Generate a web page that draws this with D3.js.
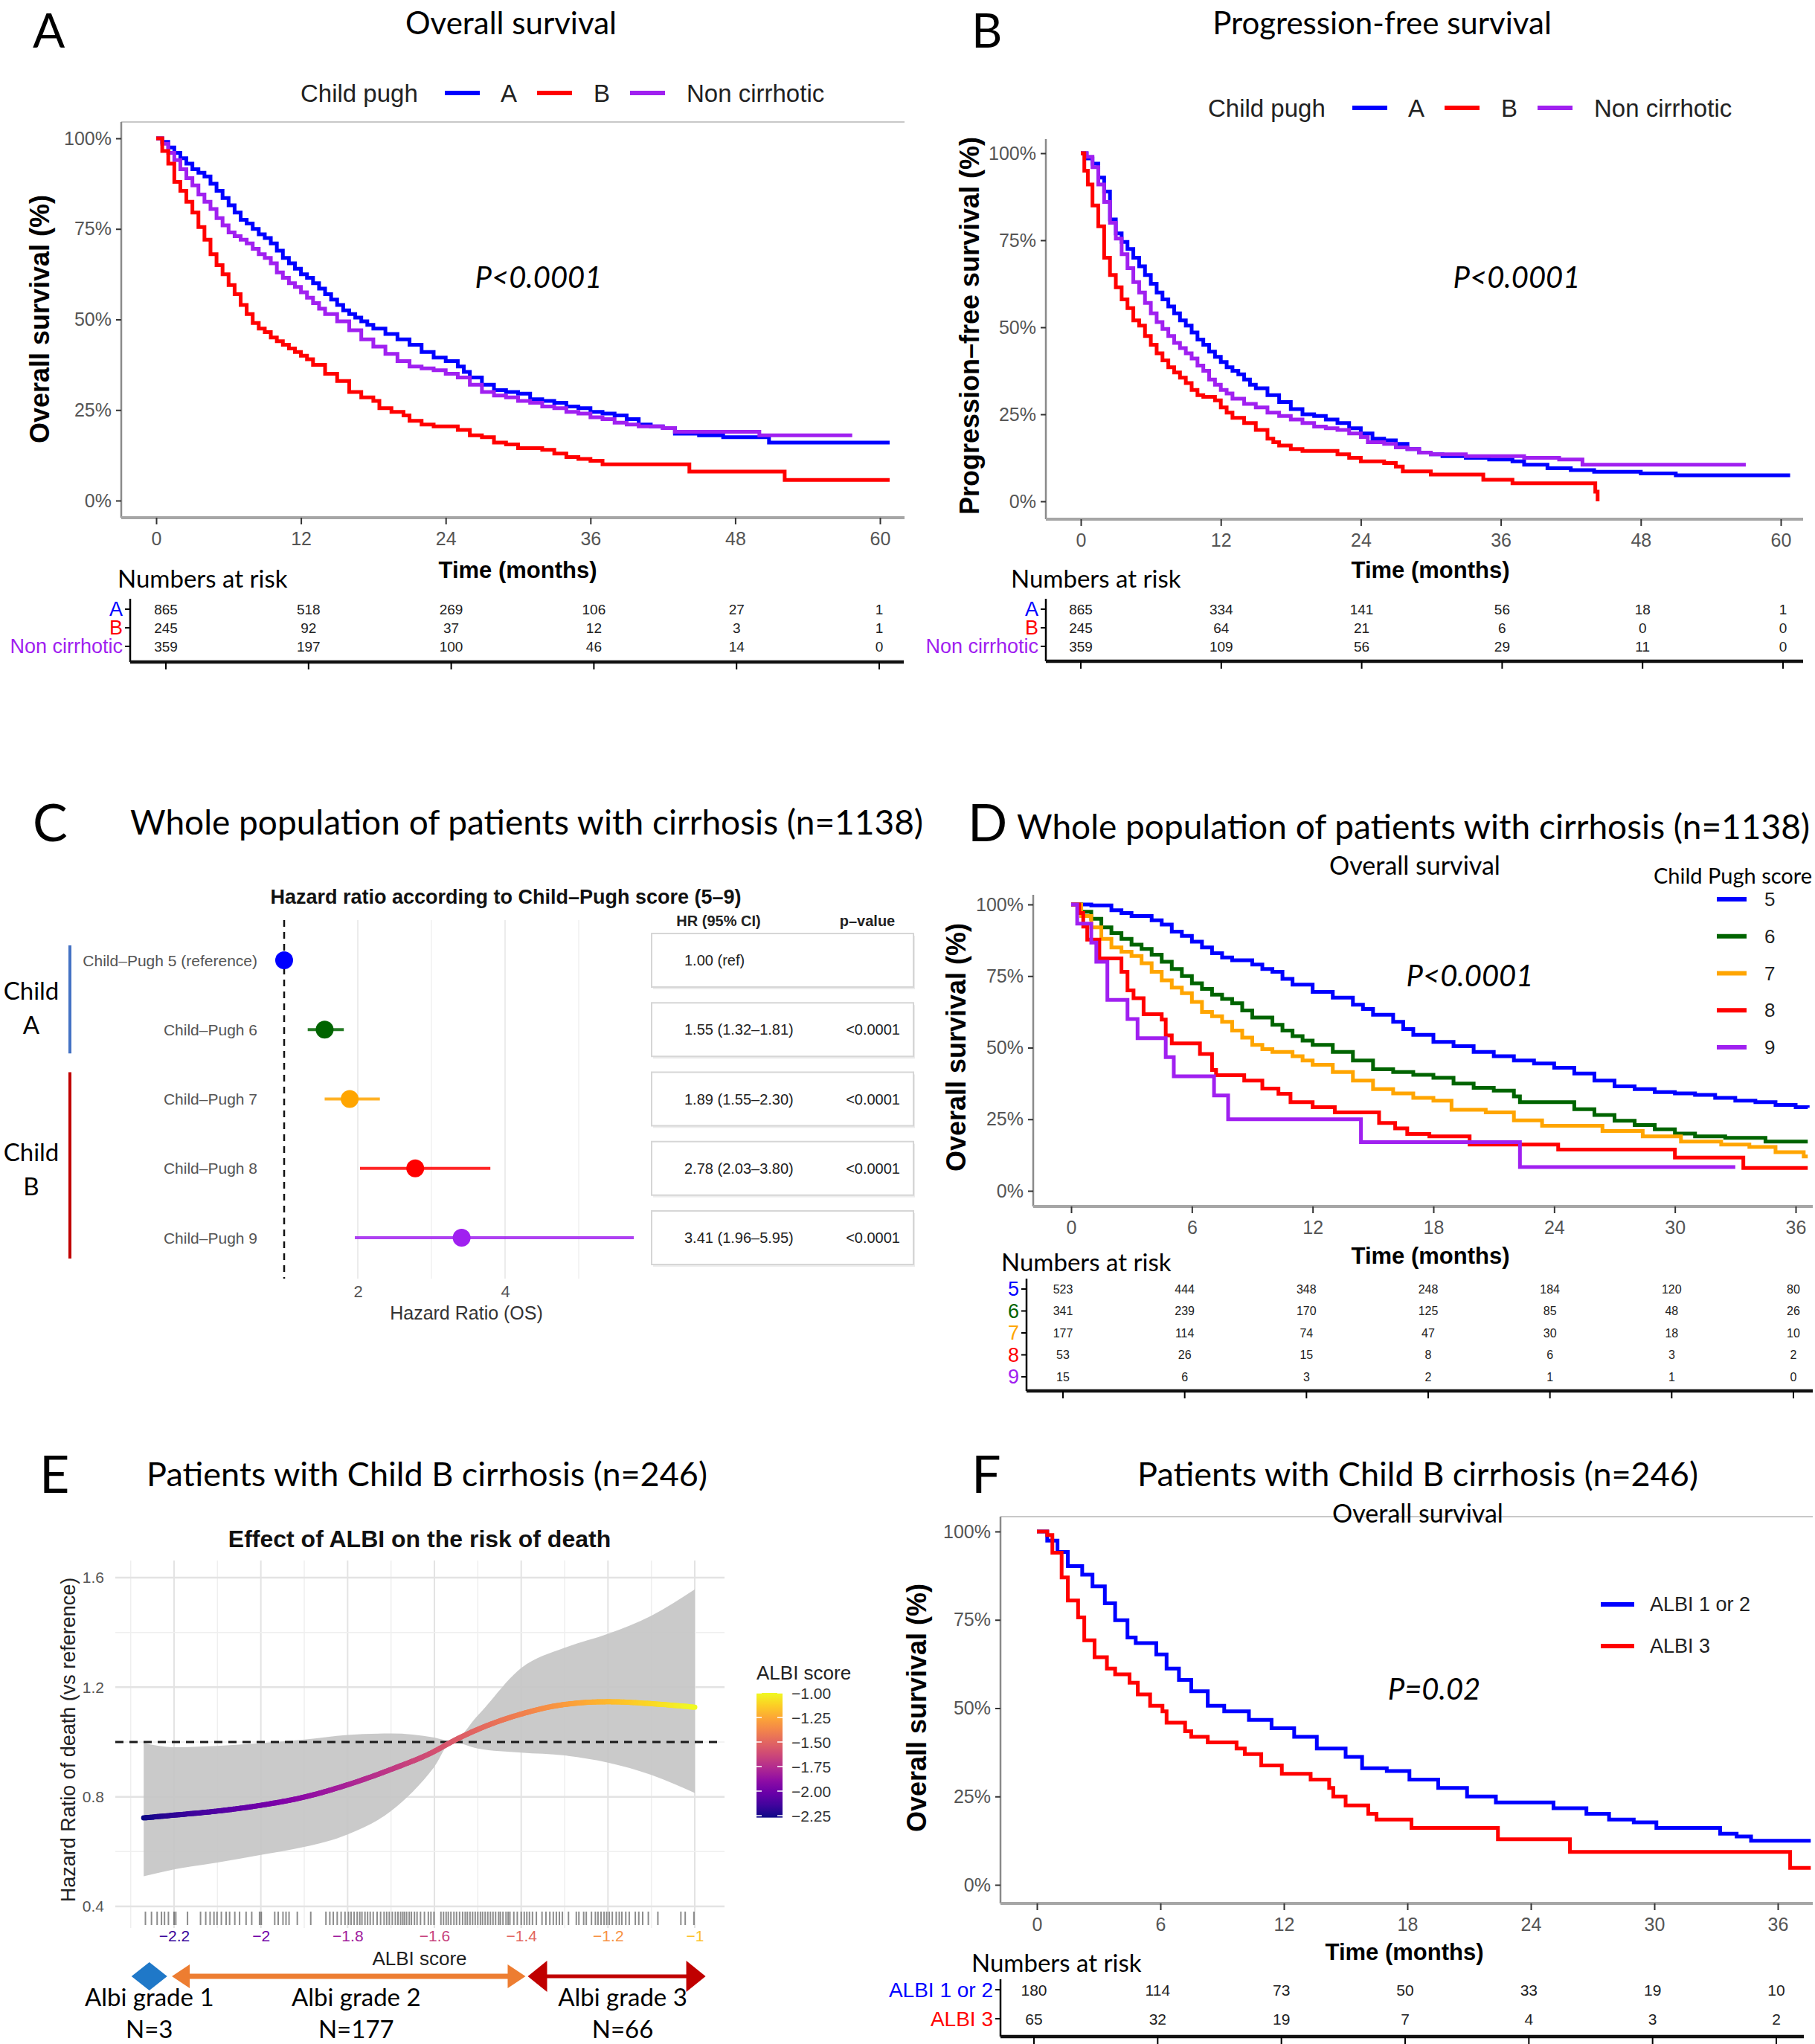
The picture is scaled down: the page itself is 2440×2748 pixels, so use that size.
<!DOCTYPE html>
<html>
<head>
<meta charset="utf-8">
<script src="https://cdn.jsdelivr.net/npm/d3@7"></script>
<style>
body { margin: 0; background: #fff; }
svg { display: block; }
</style>
</head>
<body>
<svg id="fig" width="2440" height="2748"></svg>
<script>
// ---------- data ----------
var timeTicks60 = [0, 12, 24, 36, 48, 60];
var timeTicks36 = [0, 6, 12, 18, 24, 30, 36];
var survTicks = [0, 25, 50, 75, 100];

var cpGroups = ["A", "B", "Non cirrhotic"];
var cpColors = ["#0000ff", "#ff0000", "#a020f0"];

// A - overall survival by Child-Pugh class  [months, % surviving]
var osChildA = [[0,100],[0.5,99],[1,97.5],[1.5,96],[2,94.5],[2.5,93],[3,91.5],[3.5,90.5],[4,89.5],[4.5,87.5],[5,85.5],[5.5,83.5],[6,81.5],[6.5,79.5],[7,77.5],[7.5,76.5],[8,75],[8.5,73.5],[9,72.5],[9.5,71],[10,69],[10.5,67],[11,65.5],[11.5,64],[12,62.5],[12.5,61.5],[13,60],[13.5,58.5],[14,57],[14.5,55.5],[15,54],[15.5,52.5],[16,51.5],[16.5,50.5],[17,49.5],[17.5,48.5],[18,47.5],[19,46],[20,44.5],[21,43],[22,41],[23,39.5],[24,38.5],[25,37],[25.5,35.5],[26,34],[27,32],[28,30.5],[29,30],[30,29.5],[31,28],[32,27.5],[33,27],[34,26],[35,25.5],[36,24.5],[37,24],[38,23.5],[39,22.5],[40,21],[41,20.5],[42,20],[43,18.5],[45,18],[47,17.5],[50.8,16],[60.8,16]];
var osChildB = [[0,100],[0.5,96.5],[1,93],[1.5,88],[2,85.5],[2.5,82.5],[3,79.5],[3.5,75.5],[4,72],[4.5,68],[5,65],[5.5,62.5],[6,59.5],[6.5,57],[7,54],[7.5,51.5],[8,49],[8.5,47.5],[9,46.5],[9.5,45],[10,44],[10.5,43],[11,42],[11.5,41],[12,40],[12.5,39],[13,37.5],[14,35],[15,33],[16,30],[17,28.5],[18,27.5],[18.5,25.5],[19.5,24.5],[20.5,23.5],[21,22],[22,21],[23,20.5],[25,19.5],[26,18],[27,17.5],[28,16],[29,15.5],[30,14.5],[32,14],[33,13],[34,12],[35,11.5],[36,11],[37,10],[44.2,8],[52.1,5.7],[60.8,5.7]];
var osNonCirr = [[0,100],[0.5,98.5],[1,96],[1.5,94],[2,91.5],[2.5,89],[3,87],[3.5,84.5],[4,82.5],[4.5,80.5],[5,78],[5.5,76],[6,74],[6.5,73],[7,72],[7.5,71],[8,69.5],[8.5,68],[9,67],[9.5,65.5],[10,63],[10.5,61.5],[11,60],[11.5,59],[12,57.5],[12.5,56],[13,54.5],[13.5,53],[14,51.5],[15,49.5],[16,47],[17,44.5],[18,42.5],[19,40.5],[20,38.5],[21,37],[22,36.5],[23,36],[24,35],[25,34],[26,32],[27,30],[28,29],[29,28.5],[30,27.5],[31,27],[32,26],[33,25.5],[34,24.5],[35,24],[36,23],[37,22.5],[38,21.5],[39,21],[40,20.5],[42,20],[43,19],[50,18],[57.7,18]];

// B - progression-free survival
var pfsChildA = [[0,100],[0.5,98.5],[1,97],[1.5,93],[2,89],[2.5,81],[3,77],[3.5,74.5],[4,72.5],[4.5,70],[5,67.5],[5.5,65],[6,62.5],[6.5,60],[7,58],[7.5,56],[8,54],[8.5,52],[9,50.5],[9.5,48.5],[10,46.5],[10.5,45],[11,43],[11.5,41.5],[12,40],[12.5,38.5],[13,37.5],[13.5,36.5],[14,35],[14.5,33.5],[15,32.5],[16,30.5],[17,28.5],[18,26.5],[19,25],[20,24.5],[21,23.5],[22,22.5],[23,21],[24,19.5],[25,18],[26,17.5],[27,16.5],[28,15],[29,14],[30,13.5],[31,13],[33,12.5],[35,12],[37,11.5],[38,10.5],[40,9.5],[42,9],[44,8.5],[48,8],[51,7.5],[60.8,7.5]];
var pfsChildB = [[0,100],[0.3,95],[0.6,91],[1,85],[1.5,79],[2,70],[2.5,65],[3,61.5],[3.5,58],[4,55.5],[4.5,52],[5,50.5],[5.5,47.5],[6,45],[6.5,42.5],[7,40.5],[7.5,38.5],[8,37],[8.5,35.5],[9,34],[9.5,32],[10,30.5],[10.5,30],[11.5,29],[12,27],[12.5,25.5],[13,24],[14,22.5],[15,20.5],[16,18],[16.5,17],[17,16],[18,15],[19,14.5],[22,13.5],[23,12.5],[24,11.5],[26,11],[27,10],[27.6,8.6],[30,7.7],[34.5,6.2],[37,5.2],[44.1,2.8],[44.3,0]];
var pfsNonCirr = [[0,100],[0.5,99],[1,96],[1.5,91],[2,86],[2.5,80],[3,75.5],[3.5,71],[4,67],[4.5,63],[5,60],[5.5,57],[6,54],[6.5,51.5],[7,49.5],[7.5,47.5],[8,45.5],[8.5,44],[9,42.5],[9.5,41],[10,39],[10.5,37.5],[11,35],[11.5,33.5],[12,32],[12.5,31],[13,29.5],[14,28],[15,27],[16,25.5],[17,24.5],[18,23.5],[19,22.5],[20,21.5],[21,21],[22,20.5],[23,19.5],[24,18.5],[24.6,17],[26,16.5],[27,15.5],[28,15],[29,14],[30,13.5],[33,13],[38,12.5],[41,12],[43,10.5],[57,10.5]];

// numbers at risk (A, B)
var riskOsA = [865, 518, 269, 106, 27, 1];
var riskOsB = [245, 92, 37, 12, 3, 1];
var riskOsNC = [359, 197, 100, 46, 14, 0];
var riskPfsA = [865, 334, 141, 56, 18, 1];
var riskPfsB = [245, 64, 21, 6, 0, 0];
var riskPfsNC = [359, 109, 56, 29, 11, 0];

// C - forest plot
var cpLabels = ["Child\u2013Pugh 5 (reference)", "Child\u2013Pugh 6", "Child\u2013Pugh 7", "Child\u2013Pugh 8", "Child\u2013Pugh 9"];
var cpHR = [1.00, 1.55, 1.89, 2.78, 3.41];
var cpLow = [null, 1.32, 1.55, 2.03, 1.96];
var cpHigh = [null, 1.81, 2.30, 3.80, 5.95];
var cpHRText = ["1.00 (ref)", "1.55 (1.32\u20131.81)", "1.89 (1.55\u20132.30)", "2.78 (2.03\u20133.80)", "3.41 (1.96\u20135.95)"];
var cpPText = ["", "<0.0001", "<0.0001", "<0.0001", "<0.0001"];
var scoreColors = ["#0000ff", "#006400", "#ffa500", "#ff0000", "#a020f0"];
var scoreNames = ["5", "6", "7", "8", "9"];

// D - OS by Child-Pugh score
var osScore5 = [[0,100],[1,99.7],[2,98],[2.5,97],[3,96],[4,94.5],[4.5,93],[5,90.5],[5.5,89],[6,87],[6.5,85],[7,83],[7.5,81.5],[8,80.5],[9,79],[9.5,77.5],[10,76.5],[10.5,74],[11,72],[12,69.5],[13,67.5],[14,65],[14.5,63.5],[15,61.5],[16,59],[16.5,56.5],[17,54.5],[18,52],[19,50.5],[20,48.5],[21,47],[22,45.5],[23,44.5],[24,43],[25,41],[26,38.5],[27,36.5],[28,35.5],[29,34.5],[30,34],[31,33.5],[32,32.5],[33,31.5],[34,31],[35,30],[36,29.2],[36.6,29]];
var osScore6 = [[0,100],[0.5,97.5],[1,95],[1.5,92],[2,90],[2.5,88],[3,86],[3.5,84.5],[4,82.5],[4.5,80],[5,77.5],[5.5,75],[6,72.5],[6.5,70.5],[7,68.5],[7.5,67],[8,65.5],[8.5,63],[9,60.5],[10,58],[10.5,56],[11,54],[11.5,52.5],[12,51],[13,48.5],[14,45.5],[15,42.5],[16,41.5],[17,40.5],[18,39.5],[19,37.5],[20,36],[21,35],[22,33],[22.3,31],[25,28.5],[26,26.5],[27,24.5],[28,23],[29,21.5],[30,20],[31,19],[32.5,18.5],[34.5,17.2],[36.6,17.2]];
var osScore7 = [[0,100],[0.5,96],[1,92],[1.5,88],[2,85],[2.5,83.5],[3,82],[3.5,79.5],[4,76.5],[4.5,73.5],[5,71],[5.5,69],[6,66],[6.5,62.5],[7,61],[7.5,59],[8,56],[8.5,53.5],[9,51],[9.5,49.5],[10,48.5],[11,47],[11.5,45.5],[12,44],[13,41.5],[14,38.5],[15,35.5],[16,34],[17,32.5],[18,31.5],[18.9,28.3],[20.6,27.4],[22,24.6],[23.4,22.7],[26.4,20.9],[28.4,19],[30.3,17.2],[32.3,16.2],[33.7,15.3],[35,13.5],[36.4,12],[36.6,12]];
var osScore8 = [[0,100],[0.4,97],[0.6,92.3],[0.8,87.7],[1.4,81.2],[2.5,76.5],[2.8,70],[3.1,67.3],[3.6,61.7],[4.5,59.8],[4.7,54.3],[5,51.5],[6.4,47.8],[7,42.2],[7.2,40.4],[8.6,38.5],[9.5,35.7],[10.3,33.9],[10.9,31],[12,29.2],[13.1,27.4],[15.3,23.7],[16.1,21.8],[16.7,19.9],[17.8,19],[19.8,16.2],[24.2,14.4],[30,11.6],[33.4,8],[36.6,8]];
var osScore9 = [[0,100],[0.3,93.3],[1,86.7],[1.25,80],[1.8,66.7],[2.8,60],[3.3,53.3],[4.7,46.7],[5.1,40],[7.1,33.3],[7.8,25],[14.4,17],[22.3,8.3],[33,8.3]];
var riskScore5 = [523, 444, 348, 248, 184, 120, 80];
var riskScore6 = [341, 239, 170, 125, 85, 48, 26];
var riskScore7 = [177, 114, 74, 47, 30, 18, 10];
var riskScore8 = [53, 26, 15, 8, 6, 3, 2];
var riskScore9 = [15, 6, 3, 2, 1, 1, 0];

// E - spline of ALBI vs hazard ratio
var albiX = [-2.27, -2.2, -2.1, -2.0, -1.9, -1.8, -1.7, -1.6, -1.56, -1.5, -1.4, -1.3, -1.2, -1.1, -1.0];
var albiHR = [0.723, 0.733, 0.748, 0.769, 0.799, 0.844, 0.900, 0.966, 1.001, 1.046, 1.102, 1.137, 1.147, 1.140, 1.127];
var albiLow = [0.51, 0.535, 0.56, 0.588, 0.617, 0.663, 0.748, 0.910, 1.0, 0.976, 0.961, 0.951, 0.925, 0.880, 0.814];
var albiHigh = [0.996, 0.981, 0.986, 0.996, 1.009, 1.026, 1.031, 1.016, 1.002, 1.097, 1.270, 1.344, 1.395, 1.461, 1.557];
var albiTicks = [-2.2, -2.0, -1.8, -1.6, -1.4, -1.2, -1.0];
var hrTicks = [0.4, 0.8, 1.2, 1.6];
var albiLegendTicks = [-1.00, -1.25, -1.50, -1.75, -2.00, -2.25];
var albiRug = [-2.266,-2.252,-2.239,-2.229,-2.222,-2.213,-2.200,-2.196,-2.169,-2.139,-2.127,-2.117,-2.108,-2.101,-2.091,-2.080,-2.072,-2.060,-2.049,-2.034,-2.021,-2.003,-1.999,-1.968,-1.960,-1.949,-1.942,-1.935,-1.916,-1.885,-1.850,-1.841,-1.833,-1.824,-1.815,-1.806,-1.798,-1.792,-1.785,-1.778,-1.772,-1.767,-1.760,-1.754,-1.748,-1.741,-1.732,-1.724,-1.716,-1.710,-1.704,-1.697,-1.690,-1.684,-1.678,-1.673,-1.669,-1.664,-1.658,-1.653,-1.646,-1.640,-1.632,-1.623,-1.614,-1.608,-1.601,-1.585,-1.579,-1.573,-1.568,-1.562,-1.555,-1.549,-1.542,-1.535,-1.529,-1.524,-1.518,-1.512,-1.506,-1.500,-1.494,-1.489,-1.483,-1.477,-1.471,-1.465,-1.459,-1.452,-1.448,-1.442,-1.435,-1.430,-1.426,-1.417,-1.409,-1.400,-1.393,-1.387,-1.381,-1.374,-1.365,-1.352,-1.343,-1.334,-1.326,-1.319,-1.312,-1.305,-1.291,-1.273,-1.267,-1.256,-1.250,-1.238,-1.229,-1.223,-1.216,-1.209,-1.203,-1.197,-1.190,-1.181,-1.174,-1.168,-1.159,-1.151,-1.137,-1.129,-1.120,-1.107,-1.085,-1.032,-1.022,-1.002];
var gradeNames = ["Albi grade 1", "Albi grade 2", "Albi grade 3"];
var gradeN = ["N=3", "N=177", "N=66"];
var gradeCut = -1.39;

// F - OS by ALBI grade in Child B
var albiGroups = ["ALBI 1 or 2", "ALBI 3"];
var albiColors = ["#0000ff", "#ff0000"];
var osAlbi12 = [[0,100],[0.5,97.4],[1,94.2],[1.5,90.2],[2.2,87.8],[2.7,84.5],[3.3,79.7],[3.8,74.9],[4.4,70],[4.8,68.4],[5.8,65.2],[6.3,61.2],[6.9,58],[7.5,54.8],[8.3,50.7],[9.1,49.1],[10.3,46.7],[11.4,44.3],[12.5,41.9],[13.6,38.6],[15,36.2],[15.8,33],[17,32.2],[18.1,29.8],[19.5,27.4],[20.9,25],[22.3,23.3],[25.1,21.7],[26.7,20.1],[27.8,18.5],[29,17.7],[30.1,16.1],[33.2,14.5],[34,13.7],[34.7,12.5],[37.6,12.5]];
var osAlbi3 = [[0,100],[0.5,99],[0.75,94],[1.2,87],[1.5,80.5],[2,75.7],[2.3,69.2],[2.8,64.4],[3.4,61.2],[3.8,59.6],[4.5,57.2],[4.9,53.9],[5.5,50.7],[6.1,49.1],[6.3,45.9],[7.2,43.5],[7.5,41.9],[8.3,40.3],[9.7,38.6],[10.1,37],[10.9,33.8],[11.9,31.4],[13.3,29.8],[14.2,27.4],[14.4,25],[15,22.5],[16.1,20.1],[16.5,18.5],[18.2,16.1],[22.4,12.9],[25.9,9.3],[36.6,4.8],[37.6,4.8]];
var riskAlbi12 = [180, 114, 73, 50, 33, 19, 10];
var riskAlbi3 = [65, 32, 19, 7, 4, 3, 2];

// ---------- drawing ----------
var SANS = "'Liberation Sans', Arial, Helvetica, sans-serif";
var CAL = "Lato, Carlito, 'Open Sans', sans-serif";

var svg = d3.select("#fig");
svg.append("rect").attr("width", 2440).attr("height", 2748).attr("fill", "#fff");

function label(x, y, s, size, opt) {
    opt = opt || {};
    var t = svg.append("text")
        .attr("x", x)
        .attr("y", y)
        .attr("font-size", size)
        .attr("font-family", opt.family || SANS)
        .attr("fill", opt.fill || "#000")
        .attr("text-anchor", opt.anchor || "middle")
        .attr("dominant-baseline", opt.baseline || "central")
        .text(s);
    if (opt.weight) t.attr("font-weight", opt.weight);
    if (opt.italic) t.attr("font-style", "italic");
    if (opt.rotate) t.attr("transform", "rotate(" + opt.rotate + "," + x + "," + y + ")");
    return t;
}

function hline(g, x1, x2, y, color, w) {
    return g.append("line").attr("x1", x1).attr("x2", x2).attr("y1", y).attr("y2", y)
        .attr("stroke", color).attr("stroke-width", w);
}
function vline(g, x, y1, y2, color, w) {
    return g.append("line").attr("x1", x).attr("x2", x).attr("y1", y1).attr("y2", y2)
        .attr("stroke", color).attr("stroke-width", w);
}

function kmPlot(o) {
    var x = d3.scaleLinear().domain([0, o.tmax]).range(o.xr);
    var y = d3.scaleLinear().domain([0, 100]).range(o.yr);
    var g = svg.append("g");

    if (o.top != null) hline(g, o.left, o.right, o.top, "#c8c8c8", 2);
    vline(g, o.left, o.axisTop, o.bottom, "#8a8a8a", 2.5);
    hline(g, o.left, o.right, o.bottom, "#a6a6a6", 4);

    var ya = g.append("g")
        .attr("transform", "translate(" + o.left + ",0)")
        .call(d3.axisLeft(y).tickValues(survTicks).tickFormat(d => d + "%").tickSize(7).tickPadding(6));
    var xa = g.append("g")
        .attr("transform", "translate(0," + o.bottom + ")")
        .call(d3.axisBottom(x).tickValues(o.ticks).tickSize(9).tickPadding(10));
    [ya, xa].forEach(function(a) {
        a.select(".domain").remove();
        a.selectAll(".tick line").attr("stroke", "#333").attr("stroke-width", 2);
        a.selectAll(".tick text")
            .attr("font-family", SANS)
            .attr("font-size", 25)
            .attr("fill", "#555");
    });

    var line = d3.line()
        .x(d => x(d[0]))
        .y(d => y(d[1]))
        .curve(d3.curveStepAfter);

    o.curves.forEach(function(c) {
        g.append("path")
            .datum(c.data)
            .attr("d", line)
            .attr("fill", "none")
            .attr("stroke", c.color)
            .attr("stroke-width", 5);
    });

    label(o.yt[0], o.yt[1], o.ytitle, 36, {weight: "bold", rotate: -90});
    label(o.xt[0], o.xt[1], "Time (months)", 31, {weight: "bold"});
    label(o.p[0], o.p[1], o.ptext, 40, {family: CAL, italic: true});
}

function riskTable(o) {
    var x = d3.scaleLinear().domain([0, o.tmax]).range(o.xr);
    var y = d3.scalePoint().domain(o.rows.map(r => r.label)).range(o.yr);
    var g = svg.append("g");

    vline(g, o.left, o.yr[0] - 14, o.bottom, "#000", 2.5);
    hline(g, o.left, o.right, o.bottom, "#111", 4.5);

    o.rows.forEach(function(r) {
        hline(g, o.left - 7, o.left, y(r.label), "#000", 2);
        g.append("text")
            .attr("x", o.left - 10)
            .attr("y", y(r.label))
            .attr("text-anchor", "end")
            .attr("dominant-baseline", "central")
            .attr("font-family", SANS)
            .attr("font-size", o.labSize)
            .attr("fill", r.color)
            .text(r.label);

        g.selectAll(null)
            .data(r.values)
            .enter()
            .append("text")
                .attr("x", (d, i) => x(o.times[i]))
                .attr("y", y(r.label))
                .attr("text-anchor", "middle")
                .attr("dominant-baseline", "central")
                .attr("font-family", SANS)
                .attr("font-size", o.numSize)
                .attr("fill", "#222")
                .text(d => d);
    });

    o.times.forEach(function(t) {
        vline(g, x(t), o.bottom, o.bottom + 10, "#000", 2);
    });

    label(o.title[0], o.title[1], "Numbers at risk", 33, {family: CAL, anchor: "start"});
}

function cpLegend(x0, yc) {
    var lineOff = [194, 318, 443];
    var textOff = [269, 394, 519];
    label(x0, yc, "Child pugh", 33, {anchor: "start", fill: "#222"});
    cpGroups.forEach(function(k, i) {
        hline(svg, x0 + lineOff[i], x0 + lineOff[i] + 47, yc, cpColors[i], 6);
        label(x0 + textOff[i], yc, k, 33, {anchor: "start", fill: "#222"});
    });
}

// ---- panel letters and titles ----
label(44, 64, "A", 64, {family: CAL, anchor: "start", baseline: "alphabetic"});
label(1306, 64, "B", 64, {family: CAL, anchor: "start", baseline: "alphabetic"});
label(44, 1131, "C", 70, {family: CAL, anchor: "start", baseline: "alphabetic"});
label(1301, 1131, "D", 70, {family: CAL, anchor: "start", baseline: "alphabetic"});
label(53, 2007, "E", 70, {family: CAL, anchor: "start", baseline: "alphabetic"});
label(1306, 2007, "F", 70, {family: CAL, anchor: "start", baseline: "alphabetic"});

label(687, 30, "Overall survival", 42, {family: CAL});
label(1858, 30, "Progression-free survival", 42, {family: CAL});
label(175, 1104, "Whole population of patients with cirrhosis (n=1138)", 46, {family: CAL, anchor: "start"});
label(1367, 1110, "Whole population of patients with cirrhosis (n=1138)", 46, {family: CAL, anchor: "start"});
label(574, 1981, "Patients with Child B cirrhosis (n=246)", 45, {family: CAL});
label(1906, 1981, "Patients with Child B cirrhosis (n=246)", 45, {family: CAL});

// ---- A ----
cpLegend(404, 125);
kmPlot({
    tmax: 60, xr: [210, 1183], yr: [673, 186], ticks: timeTicks60,
    left: 163, right: 1216, top: 164, axisTop: 164, bottom: 696,
    curves: [
        {data: osChildA, color: cpColors[0]},
        {data: osNonCirr, color: cpColors[2]},
        {data: osChildB, color: cpColors[1]}
    ],
    ytitle: "Overall survival (%)", yt: [53, 429], xt: [696, 766],
    ptext: "P<0.0001", p: [724, 372]
});
riskTable({
    tmax: 60, xr: [223, 1182], times: timeTicks60, yr: [819, 869],
    left: 175, right: 1215, bottom: 890, numSize: 19, labSize: 27,
    title: [158, 777],
    rows: [
        {label: cpGroups[0], color: cpColors[0], values: riskOsA},
        {label: cpGroups[1], color: cpColors[1], values: riskOsB},
        {label: cpGroups[2], color: cpColors[2], values: riskOsNC}
    ]
});

// ---- B ----
cpLegend(1624, 145);
kmPlot({
    tmax: 60, xr: [1453, 2394], yr: [674, 206], ticks: timeTicks60,
    left: 1406, right: 2424, top: null, axisTop: 187, bottom: 698,
    curves: [
        {data: pfsChildA, color: cpColors[0]},
        {data: pfsNonCirr, color: cpColors[2]},
        {data: pfsChildB, color: cpColors[1]}
    ],
    ytitle: "Progression\u2013free survival (%)", yt: [1303, 438], xt: [1923, 766],
    ptext: "P<0.0001", p: [2039, 372]
});
riskTable({
    tmax: 60, xr: [1453, 2397], times: timeTicks60, yr: [819, 869],
    left: 1406, right: 2424, bottom: 889, numSize: 19, labSize: 27,
    title: [1359, 777],
    rows: [
        {label: cpGroups[0], color: cpColors[0], values: riskPfsA},
        {label: cpGroups[1], color: cpColors[1], values: riskPfsB},
        {label: cpGroups[2], color: cpColors[2], values: riskPfsNC}
    ]
});

// ---- C : forest plot ----
(function() {
    var fx = d3.scaleLinear().domain([1, 5]).range([382, 778]);
    var fy = d3.scalePoint().domain(cpLabels).range([1291, 1664]);
    var g = svg.append("g");

    g.append("clipPath").attr("id", "forestClip")
        .append("rect").attr("x", 340).attr("y", 1220).attr("width", 512).attr("height", 520);

    [2, 3, 4, 5].forEach(function(v) {
        vline(g, fx(v), 1237, 1719, v % 2 === 0 ? "#e6e6e6" : "#f0f0f0", 1.5);
    });
    vline(g, fx(1), 1237, 1719, "#111", 2.5).attr("stroke-dasharray", "9,7");

    var pg = g.append("g").attr("clip-path", "url(#forestClip)");
    cpLabels.forEach(function(l, i) {
        if (cpLow[i] != null) {
            pg.append("line")
                .attr("x1", fx(cpLow[i])).attr("x2", fx(cpHigh[i]))
                .attr("y1", fy(l)).attr("y2", fy(l))
                .attr("stroke", scoreColors[i]).attr("stroke-width", 4)
                .attr("stroke-opacity", 0.85);
        }
        pg.append("circle")
            .attr("cx", fx(cpHR[i])).attr("cy", fy(l)).attr("r", 12)
            .attr("fill", scoreColors[i]);
        label(346, fy(l), l, 21, {anchor: "end", fill: "#555"});

        // HR / p-value boxes
        g.append("rect")
            .attr("x", 878).attr("y", fy(l) - 33).attr("width", 352).attr("height", 72)
            .attr("fill", "#ececec");
        g.append("rect")
            .attr("x", 876).attr("y", fy(l) - 36).attr("width", 352).attr("height", 72)
            .attr("fill", "#fff").attr("stroke", "#d6d6d6").attr("stroke-width", 2);
        label(920, fy(l), cpHRText[i], 20, {anchor: "start", fill: "#222"});
        label(1210, fy(l), cpPText[i], 20, {anchor: "end", fill: "#222"});
    });

    var xa = g.append("g")
        .attr("transform", "translate(0,1722)")
        .call(d3.axisBottom(fx).tickValues([2, 4]).tickFormat(d3.format("d")).tickSize(0).tickPadding(6));
    xa.select(".domain").remove();
    xa.selectAll("text").attr("font-family", SANS).attr("font-size", 22).attr("fill", "#555");

    label(627, 1765, "Hazard Ratio (OS)", 25, {fill: "#333"});
    label(680, 1206, "Hazard ratio according to Child\u2013Pugh score (5\u20139)", 27, {weight: "bold", fill: "#111"});
    label(966, 1238, "HR (95% CI)", 20, {weight: "bold", fill: "#222"});
    label(1166, 1238, "p\u2013value", 20, {weight: "bold", fill: "#222"});

    // Child A / Child B brackets
    vline(g, 94, fy(cpLabels[0]) - 20, fy(cpLabels[1]) + 32, "#4472c4", 4);
    vline(g, 94, fy(cpLabels[2]) - 36, fy(cpLabels[4]) + 28, "#c00000", 4);
    label(42, 1331, "Child", 33, {family: CAL});
    label(42, 1377, "A", 33, {family: CAL});
    label(42, 1548, "Child", 33, {family: CAL});
    label(42, 1594, "B", 33, {family: CAL});
})();

// ---- D ----
label(1902, 1162, "Overall survival", 34, {family: CAL});
label(2223, 1176, "Child Pugh score", 29, {family: CAL, anchor: "start"});
(function() {
    var ly = d3.scalePoint().domain(scoreNames).range([1209, 1408]);
    scoreNames.forEach(function(s, i) {
        hline(svg, 2308, 2348, ly(s), scoreColors[i], 6);
        label(2372, ly(s), s, 26, {anchor: "start", fill: "#222"});
    });
})();
kmPlot({
    tmax: 36, xr: [1440, 2414], yr: [1601, 1216], ticks: timeTicks36,
    left: 1389, right: 2437, top: null, axisTop: 1203, bottom: 1622,
    curves: [
        {data: osScore5, color: scoreColors[0]},
        {data: osScore6, color: scoreColors[1]},
        {data: osScore7, color: scoreColors[2]},
        {data: osScore8, color: scoreColors[3]},
        {data: osScore9, color: scoreColors[4]}
    ],
    ytitle: "Overall survival (%)", yt: [1285, 1408], xt: [1923, 1688],
    ptext: "P<0.0001", p: [1976, 1311]
});
riskTable({
    tmax: 36, xr: [1429, 2411], times: timeTicks36, yr: [1733, 1851],
    left: 1380, right: 2437, bottom: 1870, numSize: 16, labSize: 27,
    title: [1346, 1696],
    rows: scoreNames.map((s, i) => ({
        label: s, color: scoreColors[i],
        values: [riskScore5, riskScore6, riskScore7, riskScore8, riskScore9][i]
    }))
});

// ---- E : ALBI spline ----
(function() {
    var ex = d3.scaleLinear().domain([-2.2, -1.0]).range([234, 934]);
    var ey = d3.scaleLinear().domain([0.4, 1.6]).range([2563, 2121]);
    var g = svg.append("g");

    d3.range(-23, -9).forEach(function(k) {
        vline(g, ex(k / 10), 2098, 2592, k % 2 === 0 ? "#e3e3e3" : "#efefef", k % 2 === 0 ? 2 : 1.5);
    });
    d3.range(2, 9).forEach(function(k) {
        hline(g, 155, 974, ey(k / 5), k % 2 === 0 ? "#e3e3e3" : "#efefef", k % 2 === 0 ? 2.5 : 1.5);
    });

    var band = albiX.map((v, i) => ({x: v, lo: albiLow[i], hi: albiHigh[i]}));
    g.append("path")
        .datum(band)
        .attr("d", d3.area().x(d => ex(d.x)).y0(d => ey(d.lo)).y1(d => ey(d.hi)).curve(d3.curveMonotoneX))
        .attr("fill", "#c4c4c4")
        .attr("fill-opacity", 0.9);

    hline(g, 155, 969, ey(1), "#1a1a1a", 3).attr("stroke-dasharray", "11,8");

    // curve coloured along ALBI with plasma
    var cScale = d3.scaleLinear().domain([d3.min(albiX), d3.max(albiX)]).range([0, 1]);
    var pts = albiX.map((v, i) => [ex(v), ey(albiHR[i])]);
    var tmp = g.append("path")
        .attr("d", d3.line().curve(d3.curveMonotoneX)(pts))
        .attr("fill", "none");
    var node = tmp.node(), len = node.getTotalLength(), n = 240;
    var samples = d3.range(n + 1).map(k => node.getPointAtLength(len * k / n));
    tmp.remove();
    for (var k = 0; k < n; k++) {
        var a = samples[k], b = samples[k + 1];
        g.append("line")
            .attr("x1", a.x).attr("y1", a.y).attr("x2", b.x).attr("y2", b.y)
            .attr("stroke", d3.interpolatePlasma(cScale(ex.invert((a.x + b.x) / 2))))
            .attr("stroke-width", 7)
            .attr("stroke-linecap", "round");
    }

    // rug
    g.selectAll(".rug")
        .data(albiRug)
        .enter()
        .append("line")
            .attr("x1", d => ex(d)).attr("x2", d => ex(d))
            .attr("y1", 2570).attr("y2", 2588)
            .attr("stroke", "#000").attr("stroke-opacity", 0.45).attr("stroke-width", 2);

    var ya = g.append("g")
        .attr("transform", "translate(146,0)")
        .call(d3.axisLeft(ey).tickValues(hrTicks).tickFormat(d3.format(".1f")).tickSize(0).tickPadding(6));
    ya.select(".domain").remove();
    ya.selectAll("text").attr("font-family", SANS).attr("font-size", 21).attr("fill", "#555");

    var tickColor = d3.scaleLinear().domain([-2.33, -0.8]).range([0, 1]);
    var xa = g.append("g")
        .attr("transform", "translate(0,2590)")
        .call(d3.axisBottom(ex).tickValues(albiTicks).tickFormat(d3.format("")).tickSize(0).tickPadding(5));
    xa.select(".domain").remove();
    xa.selectAll("text")
        .attr("font-family", SANS).attr("font-size", 21)
        .attr("fill", d => d3.interpolatePlasma(tickColor(d)));

    label(564, 2633, "ALBI score", 26, {fill: "#222"});
    label(92, 2339, "Hazard Ratio of death (vs reference)", 27, {fill: "#222", rotate: -90});
    label(564, 2069, "Effect of ALBI on the risk of death", 32, {weight: "bold", fill: "#111"});

    // colour bar
    var cb = d3.scaleLinear().domain([-2.25, -1.0]).range([2441, 2276]);
    var grad = svg.append("defs").append("linearGradient")
        .attr("id", "plasmaBar").attr("x1", 0).attr("x2", 0).attr("y1", 1).attr("y2", 0);
    d3.range(0, 1.0001, 0.1).forEach(function(t) {
        grad.append("stop").attr("offset", t).attr("stop-color", d3.interpolatePlasma(t));
    });
    g.append("rect")
        .attr("x", 1017).attr("y", cb(d3.max(albiX)))
        .attr("width", 35).attr("height", cb(d3.min(albiX)) - cb(d3.max(albiX)))
        .attr("fill", "url(#plasmaBar)");
    albiLegendTicks.forEach(function(v) {
        hline(g, 1017, 1024, cb(v), "#fff", 1.5);
        hline(g, 1045, 1052, cb(v), "#fff", 1.5);
        label(1064, cb(v), d3.format(".2f")(v), 21, {anchor: "start", fill: "#333"});
    });
    label(1017, 2249, "ALBI score", 26, {anchor: "start", fill: "#222"});

    // ALBI grade annotation
    var ay = 2657;
    var span2 = [ex(-2.205), ex(gradeCut)];
    var span3 = [ex(gradeCut) + 3, ex(-0.975)];
    var dx = ex(-2.257);
    g.append("path")
        .attr("d", "M" + (dx - 24) + "," + ay + "L" + dx + "," + (ay - 19) + "L" + (dx + 24) + "," + ay + "L" + dx + "," + (ay + 19) + "Z")
        .attr("fill", "#1f78c8");

    function dblArrow(s, color, w, head, half) {
        hline(g, s[0] + head - 2, s[1] - head + 2, ay, color, w);
        g.append("path")
            .attr("d", "M" + s[0] + "," + ay + "L" + (s[0] + head) + "," + (ay - half) + "L" + (s[0] + head) + "," + (ay + half) + "Z")
            .attr("fill", color);
        g.append("path")
            .attr("d", "M" + s[1] + "," + ay + "L" + (s[1] - head) + "," + (ay - half) + "L" + (s[1] - head) + "," + (ay + half) + "Z")
            .attr("fill", color);
    }
    dblArrow(span2, "#ed7d31", 7, 24, 16);
    dblArrow(span3, "#c00000", 5, 26, 21);

    var centers = [dx, (span2[0] + span2[1]) / 2 + 10, (span3[0] + span3[1]) / 2 + 8];
    gradeNames.forEach(function(s, i) {
        label(centers[i], 2684, s, 33, {family: CAL});
        label(centers[i], 2727, gradeN[i], 33, {family: CAL});
    });
})();

// ---- F ----
kmPlot({
    tmax: 36, xr: [1394, 2390], yr: [2534, 2059], ticks: timeTicks36,
    left: 1345, right: 2437, top: 2039, axisTop: 2039, bottom: 2559,
    curves: [
        {data: osAlbi12, color: albiColors[0]},
        {data: osAlbi3, color: albiColors[1]}
    ],
    ytitle: "Overall survival (%)", yt: [1232, 2296], xt: [1888, 2624],
    ptext: "P=0.02", p: [1928, 2270]
});
// subtitle sits on the frame line
label(1906, 2033, "Overall survival", 34, {family: CAL});
albiGroups.forEach(function(s, i) {
    var yy = [2157, 2213][i];
    hline(svg, 2152, 2197, yy, albiColors[i], 6);
    label(2218, yy, s, 27, {anchor: "start", fill: "#222"});
});
riskTable({
    tmax: 36, xr: [1390, 2388], times: timeTicks36, yr: [2675, 2714],
    left: 1345, right: 2425, bottom: 2738, numSize: 21, labSize: 28,
    title: [1306, 2638],
    rows: [
        {label: albiGroups[0], color: albiColors[0], values: riskAlbi12},
        {label: albiGroups[1], color: albiColors[1], values: riskAlbi3}
    ]
});
</script>
</body>
</html>
